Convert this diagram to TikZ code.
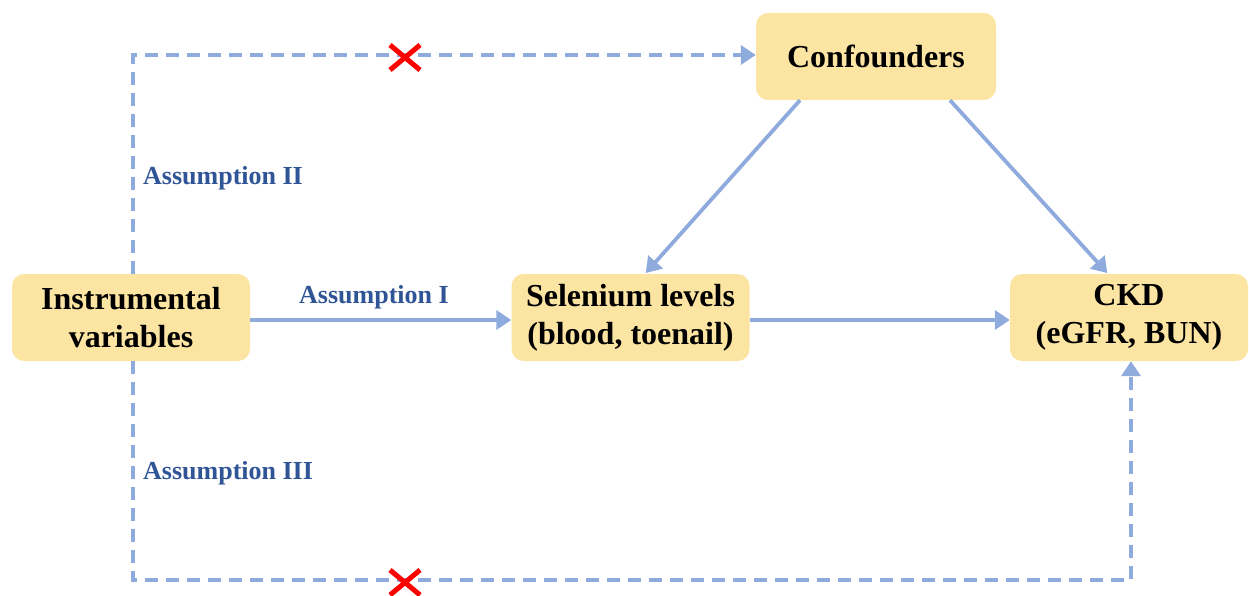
\documentclass[tikz,border=0pt]{standalone}
\usepackage{fontspec}
\setmainfont{Liberation Serif}
\usetikzlibrary{arrows.meta}
\definecolor{boxfill}{HTML}{FCE4A2}
\definecolor{arrowc}{HTML}{8FAADC}
\definecolor{labc}{HTML}{2F5597}
\begin{document}
\begin{tikzpicture}[x=1pt,y=-1pt,
  box/.style={fill=boxfill,draw=none,rounded corners=12pt,minimum width=238pt,minimum height=87pt,align=center,font=\bfseries\fontsize{32}{38}\selectfont,inner sep=0pt},
  conn/.style={draw=arrowc,line width=3.8pt,-{Triangle[length=15pt,width=19pt]}},
  dconn/.style={conn,line width=4.5pt,dash pattern=on 13pt off 8pt},
  lab/.style={text=labc,font=\bfseries\fontsize{26}{30}\selectfont,inner sep=0pt},
  cross/.style={draw=red,line width=5pt}]
\useasboundingbox (0,0) rectangle (1249,596);
\node[box] (iv) at (131,317.5) {Instrumental\\variables};
\node[box] (se) at (630.5,317.5) {Selenium levels\\(blood, toenail)};
\node[box] (ckd) at (1129,317.5) {CKD\\(eGFR, BUN)};
\node[box,minimum width=240pt] (cf) at (876,56.5) {Confounders};
% solid arrows
\draw[conn] (iv.east |- 0,320) -- (se.west |- 0,320);
\draw[conn] (se.east |- 0,320) -- (ckd.west |- 0,320);
\draw[conn,shorten >=1pt] (cf.south -| 800,0) -- (se.north -| 645,0);
\draw[conn,shorten >=1pt] (cf.south -| 950,0) -- (ckd.north -| 1108,0);
% dashed
\coordinate (tl) at (133,55);
\coordinate (bl) at (133,580);
\coordinate (br) at (1131,580);
\draw[dconn] (iv.north -| 133,0) -- (tl) -- (cf.west |- 0,55);
\draw[dconn] (iv.south -| 133,0) -- (bl) -- (br) -- (ckd.south -| 1131,0);
% labels
\node[lab,anchor=west] (l1) at (299,297) {Assumption I};
\node[lab,anchor=west] (l2) at (143,178) {Assumption II};
\node[lab,anchor=west] (l3) at (143,473) {Assumption III};
% crosses
\draw[cross] (390,45) -- (420,70) (390,70) -- (420,45);
\draw[cross] (390,570) -- (420,595) (390,595) -- (420,570);
\end{tikzpicture}
\end{document}
